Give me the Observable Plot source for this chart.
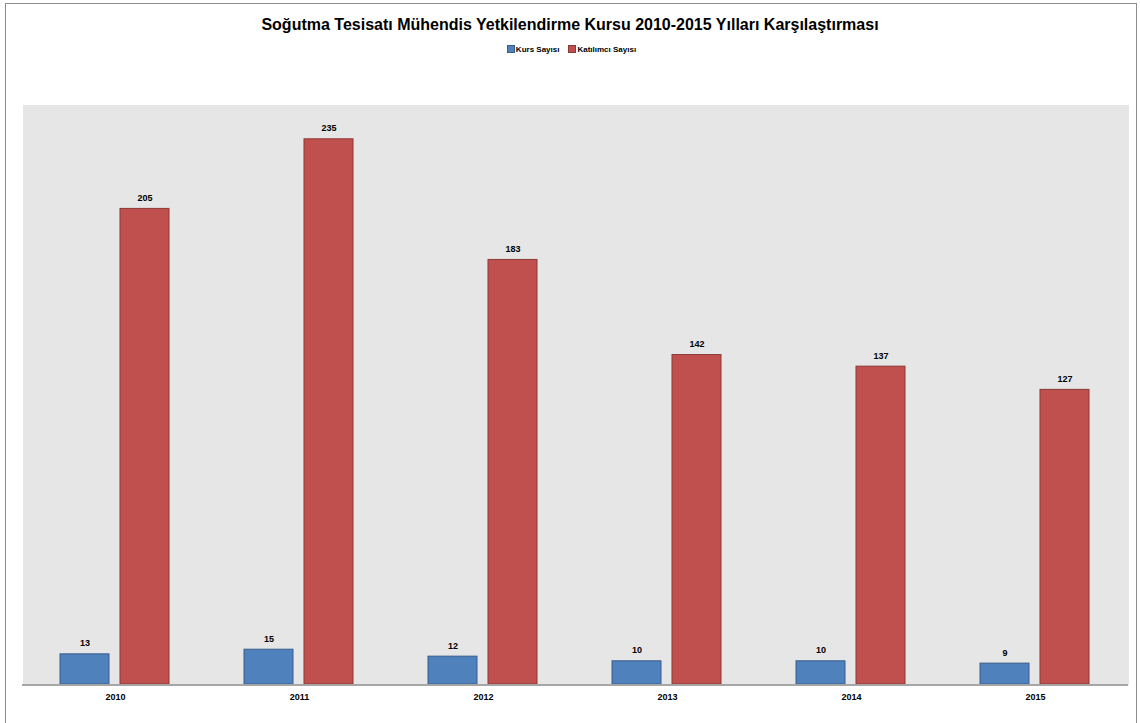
<!DOCTYPE html>
<html>
<head>
<meta charset="utf-8">
<script src="https://cdn.jsdelivr.net/npm/d3@7"></script>
<script src="https://cdn.jsdelivr.net/npm/@observablehq/plot@0.6"></script>
<style>
  html, body { margin: 0; padding: 0; background: #fff; }
  #wrap { position: relative; width: 1140px; height: 723px; overflow: hidden; font-family: "Liberation Sans", Arial, sans-serif; }
  #border { position: absolute; left: 5px; top: 3px; width: 1132px; height: 730px; border: 1px solid #8c8c8c; box-sizing: border-box; }
  #title { position: absolute; left: 0; width: 1140px; top: 16px; text-align: center; font-weight: bold; font-size: 16px; color: #000; }
  #legend { position: absolute; left: 0; width: 1144px; top: 45px; text-align: center; font-weight: bold; font-size: 8px; color: #000; }
  #legend span.sw { display: inline-block; width: 6px; height: 6px; margin-right: 2px; vertical-align: 0px; }
  #legend span.item { margin: 0 5px; }
  #chart { position: absolute; left: 0; top: 70px; }
</style>
</head>
<body>
<div id="wrap">
  <div id="border"></div>
  <div id="title"></div>
  <div id="legend"></div>
  <div id="chart"></div>
</div>
<script>
const titleText = "Soğutma Tesisatı Mühendis Yetkilendirme Kursu 2010-2015 Yılları Karşılaştırması";
const years = ["2010", "2011", "2012", "2013", "2014", "2015"];
const seriesNames = ["Kurs Sayısı", "Katılımcı Sayısı"];
const kursSayisi = [13, 15, 12, 10, 10, 9];
const katilimciSayisi = [205, 235, 183, 142, 137, 127];
const fillColors = ["#4f81bd", "#c0504d"];
const edgeColors = ["#385d8a", "#8c3836"];

document.getElementById("title").textContent = titleText;
const legend = document.getElementById("legend");
seriesNames.forEach((s, i) => {
  const item = document.createElement("span");
  item.className = "item";
  const sw = document.createElement("span");
  sw.className = "sw";
  sw.style.background = fillColors[i];
  sw.style.outline = "0.5px solid " + edgeColors[i];
  item.appendChild(sw);
  item.appendChild(document.createTextNode(s));
  legend.appendChild(item);
});

const rows = [];
years.forEach((y, i) => {
  rows.push({year: y, series: seriesNames[0], value: kursSayisi[i]});
  rows.push({year: y, series: seriesNames[1], value: katilimciSayisi[i]});
});

const chart = Plot.plot({
  width: 1140,
  height: 653,
  marginTop: 34,
  marginBottom: 39,
  marginLeft: 22,
  marginRight: 13,
  style: {fontFamily: "'Liberation Sans', Arial, sans-serif", fontSize: "9px", fontWeight: "bold", color: "#000", background: "transparent"},
  fx: {domain: years, padding: 0, label: null, tickSize: 0, tickPadding: 9},
  x: {domain: seriesNames, paddingInner: 0.18, paddingOuter: 0.6, axis: null},
  y: {domain: [0, 250], axis: null},
  marks: [
    Plot.frame({fill: "#e6e6e6", stroke: "none", insetLeft: -1, insetRight: -1, shapeRendering: "crispEdges"}),
    ...seriesNames.map((s, i) =>
      Plot.barY(rows.filter(d => d.series === s), {
        fx: "year", x: "series", y: "value",
        fill: fillColors[i], stroke: edgeColors[i], strokeWidth: 1
      })
    ),
    Plot.ruleY([0], {stroke: "#a6a6a6", strokeWidth: 2, insetLeft: -1, insetRight: -1, shapeRendering: "crispEdges"}),
    Plot.text(rows, {fx: "year", x: "series", y: "value", text: d => String(d.value), dy: -11, fill: "#000"})
  ]
});
document.getElementById("chart").appendChild(chart);
</script>
</body>
</html>
